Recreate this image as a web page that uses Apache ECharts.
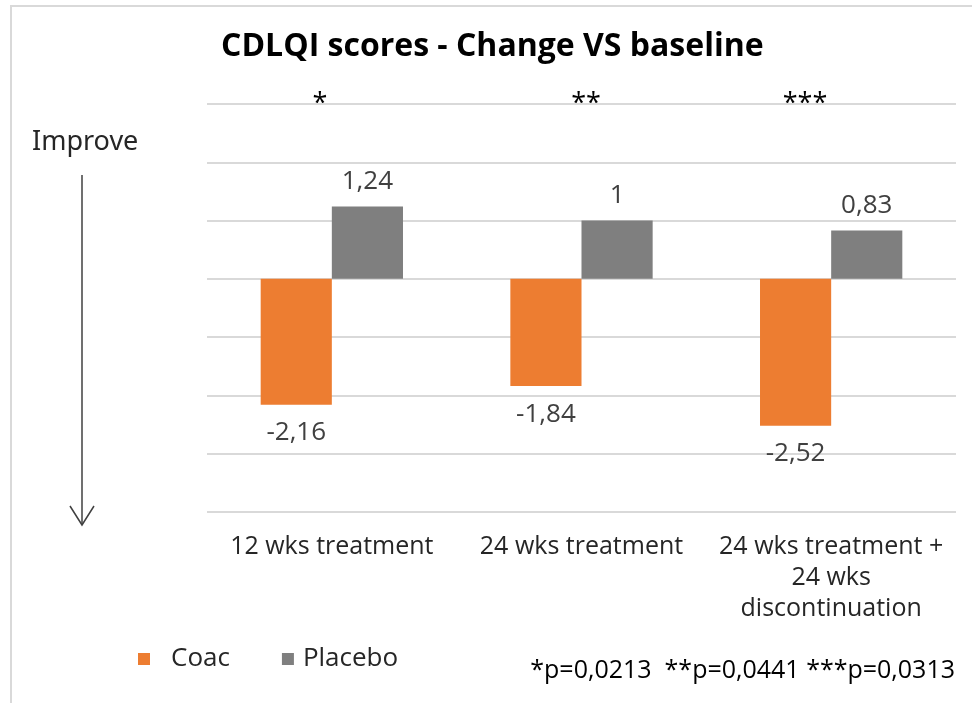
<!DOCTYPE html>
<html>
<head>
<meta charset="utf-8">
<script src="https://cdn.jsdelivr.net/npm/echarts@6/dist/echarts.min.js"></script>
<style>
  html, body { margin: 0; padding: 0; background: #ffffff; }
  #chart { width: 972px; height: 703px; }
</style>
</head>
<body>
<div id="chart"></div>
<script>
// Time points of the study
const categories = ['12 wks treatment', '24 wks treatment', '24 wks treatment +\n24 wks\ndiscontinuation'];
// Mean change in CDLQI score from baseline
const coacValues = [-2.16, -1.84, -2.52];
const placeboValues = [1.24, 1.0, 0.83];
// Significance markers above each group, and the p-values they stand for
const starMarks = ['*', '**', '***'];
const pValueNote = '*p=0,0213  **p=0,0441 ***p=0,0313';

const FONT = '"Open Sans", "Noto Sans", sans-serif';
const fmt = v => String(v).replace('.', ',');

const chart = echarts.init(document.getElementById('chart'), null, { renderer: 'canvas' });

chart.setOption({
  backgroundColor: '#ffffff',
  animation: false,
  title: {
    text: 'CDLQI scores - Change VS baseline',
    left: 221,
    top: 31,
    padding: 0,
    textStyle: { fontFamily: FONT, fontWeight: 'bold', fontSize: 32, color: '#000000' }
  },
  legend: {
    left: 138,
    top: 646,
    icon: 'rect',
    itemWidth: 12,
    itemHeight: 12,
    itemGap: 52,
    padding: 0,
    textStyle: { fontFamily: FONT, fontSize: 26, color: '#262626' },
    data: [
      { name: 'Coac', textStyle: { padding: [0, 0, 0, 16] } },
      { name: 'Placebo', textStyle: { padding: [0, 0, 0, 4] } }
    ]
  },
  grid: { left: 207, right: 16, top: 104, bottom: 191, containLabel: false },
  xAxis: {
    type: 'category',
    data: categories,
    axisLine: { show: false },
    axisTick: { show: false },
    axisLabel: {
      interval: 0,
      margin: 19,
      fontFamily: FONT,
      fontSize: 25,
      lineHeight: 31,
      color: '#262626'
    }
  },
  yAxis: {
    type: 'value',
    min: -4,
    max: 3,
    interval: 1,
    axisLabel: { show: false },
    axisLine: { show: false },
    axisTick: { show: false },
    splitLine: { lineStyle: { color: '#d9d9d9', width: 2 } }
  },
  series: [
    {
      name: 'Coac',
      type: 'bar',
      data: coacValues,
      barGap: '0%',
      barCategoryGap: '43%',
      itemStyle: { color: '#ED7D31' },
      label: {
        show: true,
        position: 'bottom',
        distance: 15,
        formatter: p => fmt(p.value),
        fontFamily: FONT,
        fontSize: 26,
        color: '#404040'
      }
    },
    {
      name: 'Placebo',
      type: 'bar',
      data: placeboValues,
      itemStyle: { color: '#7F7F7F' },
      label: {
        show: true,
        position: 'top',
        distance: 12,
        formatter: p => fmt(p.value),
        fontFamily: FONT,
        fontSize: 26,
        color: '#404040'
      }
    }
  ],
  graphic: [
    // light frame around the chart area
    {
      type: 'rect',
      shape: { x: 11, y: 6, width: 1000, height: 800 },
      style: { fill: 'none', stroke: '#d9d9d9', lineWidth: 2 },
      silent: true, z: -1
    },
    // "Improve" direction arrow
    {
      type: 'text',
      left: 32, top: 129,
      style: { text: 'Improve', font: '27px "Noto Sans", sans-serif', fill: '#262626' }
    },
    {
      type: 'line',
      shape: { x1: 82, y1: 175, x2: 82, y2: 525 },
      style: { stroke: '#404040', lineWidth: 1.5 }
    },
    {
      type: 'polyline',
      shape: { points: [[70, 506], [82, 525], [94, 506]] },
      style: { stroke: '#404040', lineWidth: 1.5, fill: 'none' }
    },
    // significance stars
    {
      type: 'text', x: 320, y: 104,
      style: { text: starMarks[0], font: '27px ' + FONT, fill: '#000000', align: 'center', verticalAlign: 'middle' }
    },
    {
      type: 'text', x: 586, y: 104,
      style: { text: starMarks[1], font: '27px ' + FONT, fill: '#000000', align: 'center', verticalAlign: 'middle' }
    },
    {
      type: 'text', x: 805, y: 104,
      style: { text: starMarks[2], font: '27px ' + FONT, fill: '#000000', align: 'center', verticalAlign: 'middle' }
    },
    // p-value note
    {
      type: 'text', x: 955, y: 671,
      style: { text: pValueNote, font: '25px ' + FONT, fill: '#000000', align: 'right', verticalAlign: 'middle' }
    }
  ]
});
</script>
</body>
</html>
